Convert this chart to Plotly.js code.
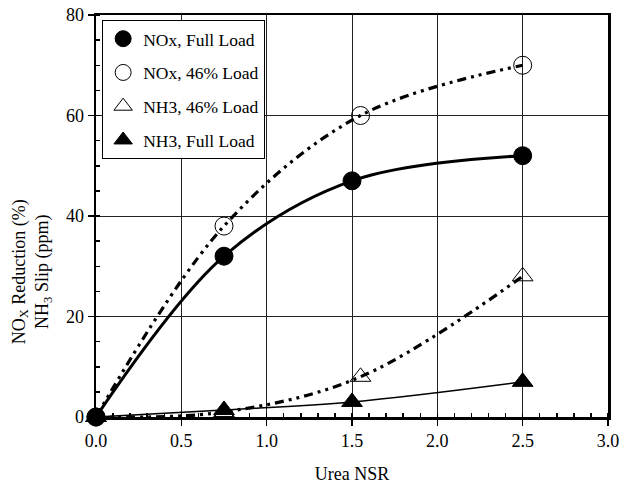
<!DOCTYPE html>
<html>
<head>
<meta charset="utf-8">
<script src="https://cdn.plot.ly/plotly-3.0.1.min.js"></script>
<style>html,body{margin:0;padding:0;background:#fff;}#chart{width:620px;height:485px;}</style>
</head>
<body>
<div id="chart"></div>
<script>
// Data
const seriesNames = ["NOx, Full Load", "NOx, 46% Load", "NH3, 46% Load", "NH3, Full Load"];
const noxFullX = [0, 0.75, 1.5, 2.5];
const noxFullY = [0, 32, 47, 52];
const nox46X = [0, 0.75, 1.55, 2.5];
const nox46Y = [0, 38, 60, 70];
const nh346X = [0, 0.75, 1.55, 2.5];
const nh346Y = [0, 1, 8, 28];
const nh3FullX = [0, 0.75, 1.5, 2.5];
const nh3FullY = [0, 1.4, 3, 7];
const xTickVals = [0, 0.5, 1.0, 1.5, 2.0, 2.5, 3.0];
const yTickVals = [0, 20, 40, 60, 80];

const FONT = "Liberation Serif, Times New Roman, serif";
const dashPat = "9px,5px,3px,5px,3px,5px";

function lineTrace(x, y, width, dash) {
  return {x: x, y: y, mode: "lines", type: "scatter", showlegend: false, hoverinfo: "skip",
    line: {color: "#000", width: width, dash: dash, shape: "spline", smoothing: 1}, cliponaxis: false};
}
function markTrace(x, y, name, symbol, grp) {
  return {x: x, y: y, mode: "markers", type: "scatter", name: name, legendgroup: grp,
    marker: {symbol: symbol, size: 18, color: "#000", line: {color: "#000", width: 1}},
    cliponaxis: false};
}

const data = [
  lineTrace(noxFullX, noxFullY, 3, "solid"),
  lineTrace(nox46X, nox46Y, 3.2, dashPat),
  lineTrace(nh346X, nh346Y, 3.2, dashPat),
  lineTrace(nh3FullX, nh3FullY, 1.6, "solid"),
  markTrace(noxFullX, noxFullY, seriesNames[0], "circle", "a"),
  markTrace(nox46X, nox46Y, seriesNames[1], "circle-open", "b"),
  markTrace(nh346X, nh346Y, seriesNames[2], "triangle-up-open", "c"),
  markTrace(nh3FullX, nh3FullY, seriesNames[3], "triangle-up", "d")
];

const layout = {
  width: 620, height: 485,
  margin: {l: 96, r: 12, t: 15, b: 68},
  paper_bgcolor: "#fff", plot_bgcolor: "#fff",
  font: {family: FONT, size: 18, color: "#000"},
  showlegend: true,
  legend: {x: 0.012, y: 0.988, xanchor: "left", yanchor: "top",
    bordercolor: "#000", borderwidth: 1, bgcolor: "#fff",
    traceorder: "grouped", tracegroupgap: 8,
    font: {family: FONT, size: 17.5, color: "#000"}},
  xaxis: {range: [0, 3], tickvals: xTickVals, ticktext: xTickVals.map(v => v.toFixed(1)),
    showline: true, linecolor: "#000", linewidth: 2.5, mirror: true,
    ticks: "outside", ticklen: 6, tickwidth: 1.5, tickcolor: "#000",
    showgrid: true, gridcolor: "#222", gridwidth: 1, zeroline: false,
    minor: {dtick: 0.1, ticks: "inside", ticklen: 4, tickwidth: 1.5, tickcolor: "#000", showgrid: false},
    title: {text: "Urea NSR", font: {family: FONT, size: 18}, standoff: 18},
    tickfont: {family: FONT, size: 18}},
  yaxis: {range: [0, 80], tickvals: yTickVals,
    showline: true, linecolor: "#000", linewidth: 2.5, mirror: true,
    ticks: "outside", ticklen: 6, tickwidth: 1.5, tickcolor: "#000",
    showgrid: true, gridcolor: "#222", gridwidth: 1, zeroline: false,
    minor: {dtick: 5, ticks: "inside", ticklen: 4, tickwidth: 1.5, tickcolor: "#000", showgrid: false},
    tickfont: {family: FONT, size: 18}},
  annotations: [{
    text: "NO<sub>X</sub> Reduction (%)<br>NH<sub>3</sub> Slip (ppm)",
    xref: "paper", yref: "paper", x: -0.125, y: 0.36, xanchor: "center", yanchor: "middle",
    textangle: -90, showarrow: false, font: {family: FONT, size: 18, color: "#000"}
  }]
};

Plotly.newPlot("chart", data, layout, {displayModeBar: false, staticPlot: true});
</script>
</body>
</html>
